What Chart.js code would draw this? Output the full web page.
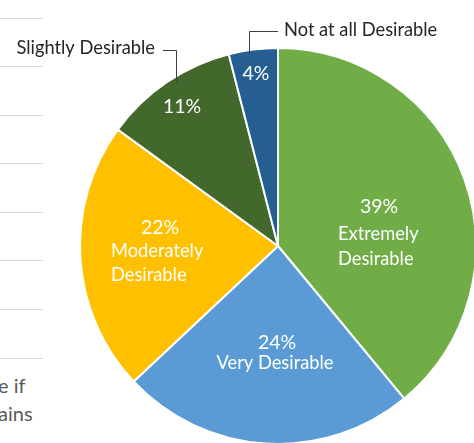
<!DOCTYPE html>
<html>
<head>
<meta charset="utf-8">
<title>Desirability</title>
<script src="https://cdn.jsdelivr.net/npm/chart.js@4.4.0/dist/chart.umd.min.js"></script>
<style>
  html, body { margin: 0; padding: 0; background: #fff; }
  #wrap { position: relative; width: 474px; height: 443px; overflow: hidden; }
  #pie { position: absolute; left: 0; top: 0; }
  .rule { position: absolute; left: 0; width: 43px; height: 1px; background: #d9d9d9; }
  .side { position: absolute; left: -2px; font: 20px Lato, sans-serif; color: #595959; line-height: 1; }
</style>
</head>
<body>
<div id="wrap">
  <div class="rule" style="top:18px"></div>
  <div class="rule" style="top:66px"></div>
  <div class="rule" style="top:115px"></div>
  <div class="rule" style="top:163px"></div>
  <div class="rule" style="top:212px"></div>
  <div class="rule" style="top:260px"></div>
  <div class="rule" style="top:309px"></div>
  <div class="rule" style="top:358px"></div>
  <div class="side" style="top:375px">e if</div>
  <div class="side" style="top:403px">ains</div>
  <canvas id="pie" width="480" height="450"></canvas>
</div>
<script>
/* global Chart */

const categories = ['Extremely Desirable', 'Very Desirable', 'Moderately Desirable', 'Slightly Desirable', 'Not at all Desirable'];
const shares = [39, 24, 22, 11, 4];
const sliceColors = ['#70ad47', '#5b9bd5', '#ffc000', '#43682b', '#255e91'];

const FONT = 'Lato, "Open Sans", sans-serif';

// where each slice's text goes, relative to the pie centre
// inside: percent line + wrapped name; outside: name with an elbow leader
const labelLayout = [
  { pct: [101, -39], name: [60, -12, 25], wrap: true, align: 'left' },
  { pct: [-1, 97], name: [-3, 117, 20], wrap: false, align: 'center' },
  { pct: [-118, -18], name: [-167, 5, 24], wrap: true, align: 'left' },
  { pct: [-96, -139], outside: { textX: 155, textY: 48, elbowX: 176, lineY: 50, startX: 163, side: 'left' } },
  { pct: [-22, -172], outside: { textX: 284, textY: 30, elbowX: 249, lineY: 31, startX: 278, side: 'right', endY: 55 } },
];

function wrapName(name) {
  const parts = name.split(' ');
  return [parts.slice(0, -1).join(' '), parts[parts.length - 1]];
}

const sliceLabels = {
  id: 'sliceLabels',
  afterDraw(chart) {
    const { ctx } = chart;
    const arcs = chart.getDatasetMeta(0).data;
    ctx.save();
    ctx.textBaseline = 'middle';
    arcs.forEach((arc, i) => {
      const { x, y, startAngle, endAngle, outerRadius } = arc.getProps(['x', 'y', 'startAngle', 'endAngle', 'outerRadius'], true);
      const lay = labelLayout[i];
      ctx.font = `19.5px ${FONT}`;
      ctx.fillStyle = '#ffffff';
      ctx.textAlign = 'center';
      ctx.fillText(`${shares[i]}%`, x + lay.pct[0], y + lay.pct[1]);

      if (lay.outside) {
        const o = lay.outside;
        const mid = (startAngle + endAngle) / 2;
        const edgeY = o.endY || y + Math.sin(mid) * outerRadius;
        ctx.strokeStyle = '#404040';
        ctx.lineWidth = 1;
        ctx.beginPath();
        ctx.moveTo(o.startX, o.lineY + 0.5);
        ctx.lineTo(o.elbowX + 0.5, o.lineY + 0.5);
        ctx.lineTo(o.elbowX + 0.5, edgeY);
        ctx.stroke();
        ctx.font = `18.3px ${FONT}`;
        ctx.fillStyle = '#262626';
        ctx.textAlign = o.side === 'left' ? 'right' : 'left';
        ctx.fillText(categories[i], o.textX, o.textY);
        return;
      }

      const lines = lay.wrap ? wrapName(categories[i]) : [categories[i]];
      ctx.font = `18.3px ${FONT}`;
      ctx.textAlign = lay.align;
      lines.forEach((line, k) => {
        ctx.fillText(line, x + lay.name[0], y + lay.name[1] + k * lay.name[2]);
      });
    });
    ctx.restore();
  },
};

new Chart(document.getElementById('pie').getContext('2d'), {
  type: 'pie',
  data: {
    labels: categories,
    datasets: [
      {
        data: shares,
        backgroundColor: sliceColors,
        borderColor: '#ffffff',
        borderWidth: 2,
      },
    ],
  },
  options: {
    responsive: false,
    animation: false,
    layout: { padding: { left: 79, top: 47, right: 3, bottom: 5 } },
    plugins: {
      legend: { display: false },
      tooltip: { enabled: false },
    },
  },
  plugins: [sliceLabels],
});
</script>
</body>
</html>
